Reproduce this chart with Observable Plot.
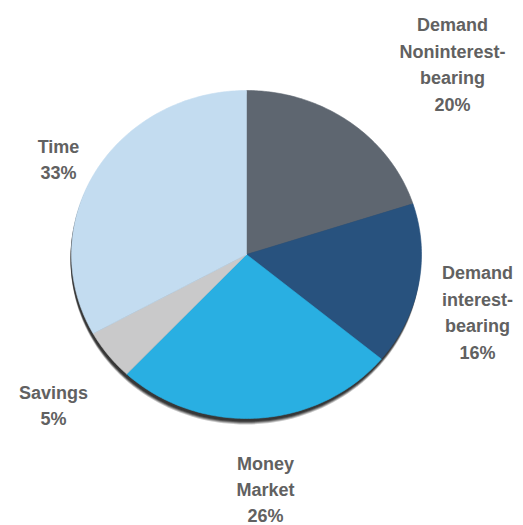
<!DOCTYPE html>
<html>
<head>
<meta charset="utf-8">
<script src="https://cdn.jsdelivr.net/npm/d3@7"></script>
<script src="https://cdn.jsdelivr.net/npm/@observablehq/plot@0.6"></script>
<style>
  html, body { margin: 0; padding: 0; background: #ffffff; }
  #chart { width: 523px; height: 525px; }
</style>
</head>
<body>
<div id="chart"></div>
<script>
// ---- data ----
const categories = ["Demand Noninterest-bearing", "Demand interest-bearing", "Money Market", "Savings", "Time"];
const values = [20, 16, 26, 5, 33];
const labelLines = ["Demand\nNoninterest-\nbearing", "Demand\ninterest-\nbearing", "Money\nMarket", "Savings", "Time"];
const colors = ["#5e6670", "#28527e", "#29afe2", "#c9c9ca", "#c3dcf0"];

// ---- layout (pixels) ----
const W = 523, H = 525;
const cx = 246, cy = 254, rx = 175, ry = 164;
const labelPos = [[452, 62], [477, 310], [265, 487], [53, 403], [58, 157]];

// slice polygons from the values
const arcs = d3.pie().sort(null)(values);
const slicePts = [];
arcs.forEach((a, i) => {
  const cat = categories[i];
  slicePts.push({cat, x: cx, y: cy});
  const n = Math.max(4, Math.ceil((a.endAngle - a.startAngle) / (Math.PI / 180)));
  for (let k = 0; k <= n; k++) {
    const t = a.startAngle + (a.endAngle - a.startAngle) * k / n;
    slicePts.push({cat, x: cx + rx * Math.sin(t), y: cy - ry * Math.cos(t)});
  }
  slicePts.push({cat, x: cx, y: cy});
});
const shadowPts = d3.range(0, 361, 2).map(d => {
  const t = d * Math.PI / 180;
  return {x: cx + rx * Math.sin(t), y: cy - ry * Math.cos(t)};
});
const labelData = categories.map((c, i) => ({
  cat: c,
  text: labelLines[i] + "\n" + values[i] + "%",
  x: labelPos[i][0],
  y: labelPos[i][1]
}));

const shadow = (dx, dy, op) => Plot.line(shadowPts, {x: "x", y: "y", fill: "#222222", stroke: "none", dx, dy, fillOpacity: op});

const chart = Plot.plot({
  width: W,
  height: H,
  margin: 0,
  x: {type: "identity", axis: null},
  y: {type: "identity", axis: null},
  color: {domain: categories, range: colors},
  style: {fontFamily: "'Liberation Sans', Arial, sans-serif", background: "#ffffff"},
  marks: [
    shadow(-1, 6, 0.25),
    shadow(-1, 5, 0.35),
    shadow(-1, 4, 0.5),
    shadow(-1, 3, 0.6),
    Plot.line(slicePts, {x: "x", y: "y", z: "cat", fill: "cat", stroke: "cat", strokeWidth: 0.6, curve: "linear"}),
    Plot.text(labelData, {
      x: "x", y: "y", text: "text",
      fontSize: 18, fontWeight: "bold", fill: "#616161",
      lineHeight: 1.47, textAnchor: "middle", lineAnchor: "middle"
    })
  ]
});

document.getElementById("chart").appendChild(chart);
</script>
</body>
</html>
